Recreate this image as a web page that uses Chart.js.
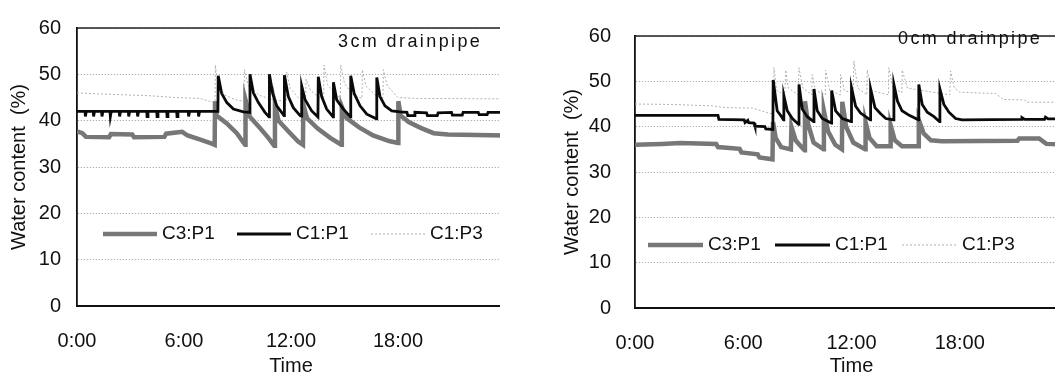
<!DOCTYPE html>
<html>
<head>
<meta charset="utf-8">
<script src="https://cdn.jsdelivr.net/npm/chart.js@4.4.1/dist/chart.umd.min.js"></script>
<style>
  html, body { margin: 0; padding: 0; background: #fff; }
  .panel { position: absolute; top: 0; height: 378px; overflow: hidden; }
  #left { left: 0; width: 500px; }
  #right { left: 540px; width: 515px; }
  canvas { display: block; }
</style>
</head>
<body>
<div class="panel" id="left"><canvas id="chart3cm" width="540" height="378"></canvas></div>
<div class="panel" id="right"><canvas id="chart0cm" width="560" height="378"></canvas></div>
<script>
// Tick labels and series names
const hourLabels = ['0:00', '6:00', '12:00', '18:00'];
const seriesNames = ['C3:P1', 'C1:P1', 'C1:P3'];
const yTicks = [0, 10, 20, 30, 40, 50, 60];

// ---- 3cm drainpipe (hours / water content %) ----
const t3C3P1 = [0, 0.3, 0.5, 1.8, 1.9, 3.1, 3.2, 4.9, 5.0, 5.9,
  6.2, 7.0, 7.6, 7.72, 7.74, 7.83, 8.4, 8.96, 9.33, 9.43,
  9.45, 9.7, 10.26, 10.73, 11.06, 11.1, 11.3, 11.9, 12.4, 12.67,
  12.69, 12.9, 13.5, 14.2, 14.82, 14.85, 15.1, 15.8, 16.6, 17.5,
  18.0, 18.02, 18.15, 18.6, 19.3, 20.0, 20.8, 24];
const v3C3P1 = [37.7, 37.3, 36.5, 36.4, 37.1, 37.0, 36.4, 36.5, 37.2, 37.6,
  36.8, 35.8, 35.0, 34.8, 44.2, 41.1, 39.4, 37.3, 35.3, 34.8,
  44.5, 40.8, 38.4, 36.3, 34.6, 43.5, 40.0, 37.5, 35.5, 34.8,
  43.5, 40.5, 38.3, 36.3, 34.8, 43.0, 40.6, 38.6, 36.8, 35.6,
  35.2, 44.2, 41.1, 39.7, 38.4, 37.3, 37.0, 36.8];

const t3C1P1 = [0, 0.45, 0.47, 0.52, 0.91, 0.93, 0.98, 1.38, 1.40, 1.45,
  1.85, 1.87, 1.92, 2.37, 2.39, 2.44, 2.88, 2.90, 2.95, 3.38,
  3.40, 3.45, 3.91, 3.93, 3.98, 4.47, 4.49, 4.54, 5.03, 5.05,
  5.10, 5.59, 5.61, 5.66, 6.24, 6.26, 6.31, 6.80, 6.82, 6.87,
  7.90, 7.92, 8.11, 8.40, 8.77, 9.33, 9.68, 9.70, 9.89, 10.17,
  10.54, 10.77, 10.79, 10.97, 11.20, 11.61, 11.63, 11.85, 12.13, 12.51,
  12.58, 12.60, 12.79, 13.16, 13.51, 13.53, 13.72, 14.00, 14.36, 14.38,
  14.56, 14.94, 15.33, 15.35, 15.54, 15.87, 16.25, 16.79, 16.81, 16.99,
  17.27, 17.65, 18.12, 18.5, 18.55, 18.9, 18.95, 19.6, 19.65, 20.2,
  20.25, 21.0, 21.05, 21.6, 21.65, 22.5, 22.55, 23.0, 23.05, 24];
const v3C1P1 = [42, 42, 40.9, 42, 42, 40.9, 42, 42, 40.9, 42,
  42, 40.9, 42, 42, 40.9, 42, 42, 40.9, 42, 42,
  40.9, 42, 42, 40.9, 42, 42, 40.9, 42, 42, 40.9,
  42, 42, 40.9, 42, 42, 40.9, 42, 42, 40.9, 42,
  42, 49.7, 45.9, 43.9, 42.5, 41.9, 41.8, 50.0, 46.0, 43.9,
  41.8, 40.8, 50.0, 45.9, 43.2, 41.1, 49.8, 45.2, 42.8, 41.1,
  41.0, 47.5, 44.5, 42.1, 40.8, 49.5, 45.2, 42.5, 40.8, 48.3,
  44.5, 42.5, 40.8, 49.7, 45.9, 43.2, 41.4, 40.4, 49.3, 45.2,
  43.2, 42.1, 41.9, 41.8, 41.1, 41.1, 41.8, 41.7, 41.1, 41.1,
  41.7, 41.8, 41.2, 41.2, 41.8, 41.8, 41.3, 41.3, 41.8, 41.8];

const t3C1P3 = [0, 1, 2.5, 4, 5.5, 6.9, 7.6, 7.74, 7.76, 7.9,
  8.3, 8.9, 9.37, 9.39, 9.6, 10.2, 11.0, 11.74, 11.76, 11.95,
  12.4, 12.82, 12.84, 13.1, 13.6, 13.83, 13.85, 14.05, 14.5, 14.77,
  14.79, 15.0, 15.5, 15.98, 16.0, 16.2, 16.8, 17.16, 17.18, 17.4,
  18.0, 19.0, 24];
const v3C1P3 = [46.0, 45.8, 45.6, 45.4, 45.0, 44.8, 44.0, 44.0, 52.0, 47.5,
  45.5, 44.5, 44.2, 51.0, 47.5, 45.5, 44.5, 44.2, 50.5, 47.0,
  45.0, 44.5, 49.0, 46.5, 45.0, 44.5, 52.0, 47.8, 45.5, 45.0,
  52.0, 48.0, 45.5, 44.8, 51.0, 47.5, 45.3, 45.0, 51.0, 47.5,
  45.0, 44.8, 44.7];

// ---- 0cm drainpipe ----
const t0C3P1 = [0, 1.5, 2.5, 4.5, 4.6, 5.8, 5.9, 6.8, 6.9, 7.62,
  7.65, 7.8, 8.1, 8.64, 8.67, 8.9, 9.3, 9.4, 9.42, 9.6,
  9.9, 10.45, 10.47, 10.7, 11.1, 11.47, 11.49, 11.7, 12.1, 12.76,
  12.78, 13.0, 13.4, 14.15, 14.17, 14.4, 14.8, 15.71, 15.73, 16.0,
  16.4, 17.0, 21.2, 21.3, 22.4, 22.8, 24];
const v0C3P1 = [36.0, 36.2, 36.4, 36.2, 35.5, 35.1, 34.3, 33.9, 33.2, 32.8,
  41.0, 37.5, 35.5, 35.0, 40.0, 37.0, 35.2, 34.8, 45.6, 40.5,
  36.5, 35.0, 43.5, 39.0, 36.0, 35.0, 45.5, 40.0, 36.5, 35.0,
  41.0, 37.5, 35.7, 35.7, 40.3, 37.0, 35.7, 35.7, 41.5, 38.5,
  37.0, 36.8, 36.9, 37.4, 37.4, 36.2, 36.0];

const t0C1P1 = [0, 4.6, 4.65, 6.05, 6.1, 6.25, 6.3, 6.6, 6.65, 7.2,
  7.25, 7.64, 7.66, 7.88, 8.07, 8.23, 8.25, 8.44, 8.72, 9.07,
  9.09, 9.27, 9.55, 9.90, 9.92, 10.10, 10.38, 10.88, 10.90, 11.12,
  11.49, 11.98, 12.0, 12.23, 12.5, 13.04, 13.06, 13.3, 13.6, 13.9,
  14.33, 14.35, 14.55, 14.8, 15.2, 15.71, 15.73, 15.92, 16.2, 16.57,
  16.88, 16.9, 17.12, 17.4, 17.77, 18.13, 21.4, 21.45, 21.6, 22.7,
  22.75, 22.9, 24];
const v0C1P1 = [42.5, 42.5, 41.6, 41.5, 40.9, 41.4, 40.9, 40.8, 40.1, 40.0,
  39.5, 39.4, 50.3, 43.5, 42.5, 41.5, 46.9, 43.5, 41.8, 40.5,
  49.3, 43.9, 42.2, 41.1, 48.3, 43.5, 41.8, 40.8, 48.0, 43.5,
  41.8, 41.1, 48.6, 44.5, 43.0, 41.5, 48.3, 44.2, 42.9, 41.8,
  41.5, 49.3, 45.6, 43.5, 42.5, 41.5, 49.3, 44.9, 43.2, 42.2,
  41.1, 48.3, 44.9, 43.2, 41.8, 41.5, 41.6, 42.0, 41.6, 41.6,
  42.1, 41.7, 41.7];

const t0C1P3 = [0, 2, 4.3, 5, 6.5, 7.4, 7.68, 7.7, 7.85, 8.3,
  8.35, 8.5, 9.05, 9.09, 9.3, 9.8, 9.82, 10.0, 10.55, 10.56,
  10.8, 11.38, 11.4, 11.6, 12.1, 12.13, 12.35, 12.85, 12.87, 13.1,
  14.05, 14.07, 14.3, 14.79, 14.81, 15.1, 17.45, 17.49, 17.7, 18.0,
  20.0, 20.4, 21.6, 21.7, 24];
const v0C1P3 = [45.0, 44.9, 44.6, 44.2, 44.1, 43.0, 42.8, 53.0, 48.0, 47.0,
  52.5, 48.5, 47.0, 53.0, 48.5, 47.0, 51.5, 48.0, 47.0, 52.5,
  48.0, 47.0, 51.5, 48.0, 47.3, 54.5, 48.5, 47.0, 52.5, 48.0,
  47.0, 53.0, 48.5, 47.5, 52.5, 48.5, 47.0, 52.3, 48.5, 47.6,
  47.3, 46.0, 45.9, 45.4, 45.4];

// ---- drawing ----
Chart.defaults.font.family = '"Liberation Sans", Arial, sans-serif';
Chart.defaults.color = '#111';

const lineStyles = [
  { color: '#777777', width: 4.5, dash: [], order: 1 },
  { color: '#0a0a0a', width: 2.8, dash: [], order: 0 },
  { color: '#b0b0b0', width: 1, dash: [2, 2], order: 2 }
];

function toPoints(times, values) {
  return times.map((t, i) => ({ x: t, y: values[i] }));
}

// top frame line, "drainpipe" note and the legend drawn inside the plot
const panelExtras = {
  id: 'panelExtras',
  afterDraw(chart, args, opts) {
    const ctx = chart.ctx;
    const area = chart.chartArea;
    ctx.save();
    ctx.strokeStyle = '#222';
    ctx.lineWidth = 1.5;
    ctx.beginPath();
    ctx.moveTo(area.left, area.top);
    ctx.lineTo(area.right, area.top);
    ctx.stroke();

    ctx.fillStyle = '#111';
    ctx.textBaseline = 'middle';
    ctx.textAlign = 'left';
    ctx.font = '18px "Liberation Sans", Arial, sans-serif';
    ctx.letterSpacing = '2.4px';
    ctx.fillText(opts.note, opts.noteX, opts.noteY);
    ctx.letterSpacing = '0px';

    ctx.font = '19px "Liberation Sans", Arial, sans-serif';
    chart.data.datasets.forEach((ds, i) => {
      const x = opts.legendX + i * opts.legendStep;
      ctx.strokeStyle = ds.borderColor;
      ctx.lineWidth = ds.borderWidth;
      ctx.setLineDash(ds.borderDash || []);
      ctx.beginPath();
      ctx.moveTo(x, opts.legendY);
      ctx.lineTo(x + opts.legendLine, opts.legendY);
      ctx.stroke();
      ctx.setLineDash([]);
      ctx.fillText(ds.label, x + opts.legendLine + 5, opts.legendY);
    });
    ctx.restore();
  }
};

function makeChart(id, series, layout) {
  return new Chart(document.getElementById(id), {
    type: 'line',
    data: {
      datasets: series.map((s, i) => ({
        label: seriesNames[i],
        data: toPoints(s[0], s[1]),
        borderColor: lineStyles[i].color,
        borderWidth: lineStyles[i].width,
        borderDash: lineStyles[i].dash,
        order: lineStyles[i].order,
        pointRadius: 0,
        tension: 0,
        fill: false
      }))
    },
    options: {
      responsive: false,
      animation: false,
      devicePixelRatio: 1,
      layout: { padding: { top: layout.top, right: layout.right, left: 0, bottom: 0 } },
      plugins: {
        legend: { display: false },
        tooltip: { enabled: false },
        panelExtras: layout.extras
      },
      scales: {
        x: {
          type: 'linear',
          min: 0,
          max: 24,
          afterBuildTicks: s => { s.ticks = [0, 6, 12, 18, 24].map(v => ({ value: v })); },
          afterFit: s => { s.height = layout.xHeight; },
          ticks: {
            font: { size: 20 },
            padding: 15,
            maxRotation: 0,
            callback: v => hourLabels[v / 6] || ''
          },
          grid: { display: false },
          border: { display: true, color: '#111', width: 2 },
          title: { display: true, text: 'Time', font: { size: 20 }, padding: { top: 0, bottom: 0 } }
        },
        y: {
          min: 0,
          max: 60,
          afterBuildTicks: s => { s.ticks = yTicks.map(v => ({ value: v })); },
          afterFit: s => { s.width = layout.yWidth; },
          ticks: { font: { size: 20 }, padding: layout.yPad },
          grid: { color: '#9a9a9a', lineWidth: 1, drawTicks: false },
          border: { display: true, color: '#111', width: 1.8, dash: [1, 2] },
          title: { display: true, text: 'Water content  (%)', font: { size: 20 }, padding: { top: layout.titlePad, bottom: 0 } }
        }
      }
    },
    plugins: [panelExtras]
  });
}

makeChart('chart3cm',
  [[t3C3P1, v3C3P1], [t3C1P1, v3C1P1], [t3C1P3, v3C1P3]],
  { top: 15, right: 35, xHeight: 72, yWidth: 77, yPad: 16, titlePad: 7,
    extras: { note: '3cm drainpipe', noteX: 338, noteY: 42,
              legendX: 103, legendStep: 134, legendLine: 54, legendY: 234 } });

makeChart('chart0cm',
  [[t0C3P1, v0C3P1], [t0C1P1, v0C1P1], [t0C1P3, v0C1P3]],
  { top: 14, right: 32, xHeight: 70, yWidth: 95, yPad: 24, titlePad: 20,
    extras: { note: '0cm drainpipe', noteX: 358, noteY: 39,
              legendX: 108, legendStep: 127, legendLine: 55, legendY: 245 } });
</script>
</body>
</html>
